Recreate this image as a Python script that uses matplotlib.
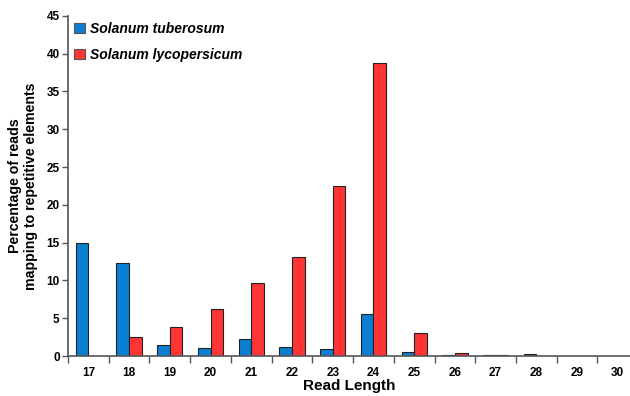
import numpy as np
import matplotlib
matplotlib.use("Agg")
import matplotlib.pyplot as plt
from matplotlib.ticker import FixedLocator

plt.rcParams["font.family"] = ["Liberation Sans", "DejaVu Sans"]
plt.rcParams["font.weight"] = "bold"

# ── data ───────────────────────────────────────────────────────────────────────
read_lengths = [17, 18, 19, 20, 21, 22, 23, 24, 25, 26, 27, 28, 29, 30]
tuberosum    = [14.9, 12.3, 1.4, 1.1, 2.3, 1.2, 0.9, 5.5, 0.5, 0.1, 0.1, 0.2, 0.03, 0.03]
lycopersicum = [0.0, 2.5, 3.8, 6.2, 9.7, 13.1, 22.5, 38.7, 3.0, 0.4, 0.1, 0.05, 0.03, 0.03]
series_names = ["Solanum tuberosum", "Solanum lycopersicum"]

# ── plot ───────────────────────────────────────────────────────────────────────
fig = plt.figure(figsize=(6.3, 3.96), dpi=100)
ax = fig.add_axes([0.108, 0.101, 0.892, 0.859])

x = np.array(read_lengths)
w = 0.31
ax.bar(x - w / 2, tuberosum, w, color="#0A7FD2", edgecolor="#222222", linewidth=0.8,
       label=series_names[0])
ax.bar(x + w / 2, lycopersicum, w, color="#FF3434", edgecolor="#222222", linewidth=0.8,
       label=series_names[1])

ax.set_xlim(16.5, 30.3)
ax.set_ylim(0, 45)
ax.set_yticks(np.arange(0, 46, 5))
ax.set_xticks(read_lengths)
ax.tick_params(axis="x", which="major", length=0, pad=8, labelsize=8.5)
ax.xaxis.set_minor_locator(FixedLocator(np.arange(16.5, 30.6, 1)))
ax.tick_params(axis="x", which="minor", length=5, color="#555555", width=1)
ax.tick_params(axis="y", length=4, color="#555555", width=1, labelsize=8.5, pad=2)
for lab in ax.get_xticklabels() + ax.get_yticklabels():
    lab.set_fontweight("bold")

for s in ["top", "right"]:
    ax.spines[s].set_visible(False)
for s in ["left", "bottom"]:
    ax.spines[s].set_color("#555555")
    ax.spines[s].set_linewidth(1.2)

ax.set_xlabel("Read Length", fontsize=11, fontweight="bold")
ax.xaxis.set_label_coords(0.5, -0.068)
ax.set_ylabel("Percentage of reads\nmapping to repetitive elements", fontsize=10.2,
              fontweight="bold", labelpad=6)

leg = ax.legend(loc="upper left", frameon=False, handlelength=0.75, handleheight=0.75,
                handletextpad=0.4, labelspacing=0.85, borderaxespad=0.05,
                prop={"style": "italic", "weight": "bold", "size": 10})
for h in leg.legend_handles:
    h.set_edgecolor("#555555")

fig.savefig("out.png", dpi=100)
